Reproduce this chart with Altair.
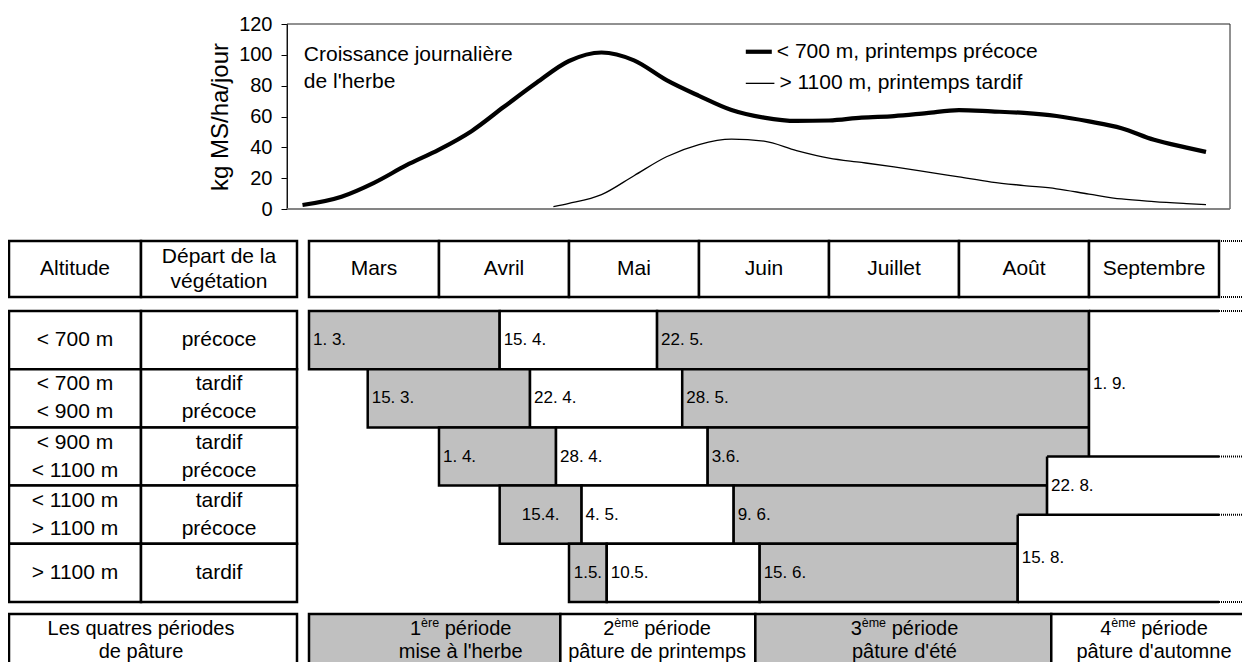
import altair as alt
import pandas as pd

FONT = "Liberation Sans"
GREY = "#c0c0c0"
BIG = 21
PER_FS = 20
SMALL = 17
SUP = 12.5
LW = 2.5

# ---------------------------------------------------------------- data
# growth curves: x = position in the season in months (0 = 1 March, 7 = 1 October)
low_x = [-0.05, 0.25, 0.5, 0.75, 1.0, 1.25, 1.5, 1.75, 2.0, 2.25, 2.5, 2.75, 3.0, 3.25,
         3.5, 3.75, 4.0, 4.25, 4.5, 4.75, 5.0, 5.25, 5.5, 5.75, 6.0, 6.25, 6.5, 6.75, 6.9]
low_y = [2.6, 8, 17, 28.4, 38.5, 50.5, 66.3, 81.9, 96, 101.5, 96.4, 83.6, 73.4, 64.2,
         59.3, 57.1, 57.4, 59.3, 60.3, 62.2, 64.1, 63.3, 62.3, 60.3, 56.8, 52.4, 44.9, 39.8, 37]
high_x = [1.88, 2.0, 2.25, 2.5, 2.75, 3.0, 3.25, 3.5, 3.75, 4.0, 4.25, 4.5, 4.75, 5.0,
          5.25, 5.5, 5.75, 6.0, 6.25, 6.5, 6.75, 6.9]
high_y = [1.5, 3.6, 9.3, 21.6, 33.9, 41.8, 45.3, 44, 37.9, 33, 30.2, 27.3, 24.1, 20.8,
          17.5, 15.2, 13.1, 9.7, 6.5, 4.8, 3.5, 2.8]
series_names = ["< 700 m, printemps précoce", "> 1100 m, printemps tardif"]
kg_ticks = [0, 20, 40, 60, 80, 100, 120]
y_title = "kg MS/ha/jour"
chart_note = "Croissance journalière\nde l'herbe"

months = ["Mars", "Avril", "Mai", "Juin", "Juillet", "Août", "Septembre"]
month_len = {3: 31, 4: 30, 5: 31, 6: 30, 7: 31, 8: 31, 9: 30, 10: 31}

head_left = ["Altitude", "Départ de la\nvégétation"]
alt_labels = ["< 700 m", "< 700 m\n< 900 m", "< 900 m\n< 1100 m", "< 1100 m\n> 1100 m", "> 1100 m"]
veg_labels = ["précoce", "tardif\nprécoce", "tardif\nprécoce", "tardif\nprécoce", "tardif"]

seg_row = [0, 0, 0, 1, 1, 1, 2, 2, 2, 3, 3, 3, 4, 4, 4]
seg_start = ["1.3", "15.4", "22.5", "15.3", "22.4", "28.5", "1.4", "28.4", "3.6",
             "15.4", "4.5", "9.6", "1.5", "10.5", "15.6"]
seg_end = ["15.4", "22.5", "1.9", "22.4", "28.5", "1.9", "28.4", "3.6", "1.9",
           "4.5", "9.6", "22.8", "10.5", "15.6", "15.8"]
seg_label = ["1. 3.", "15. 4.", "22. 5.", "15. 3.", "22. 4.", "28. 5.", "1. 4.", "28. 4.", "3.6.",
             "15.4.", "4. 5.", "9. 6.", "1.5.", "10.5.", "15. 6."]
seg_phase = ["g", "w", "g", "g", "w", "g", "g", "w", "g", "g", "w", "g", "g", "w", "g"]
seg_centered = [0, 0, 0, 0, 0, 0, 0, 0, 0, 1, 0, 0, 1, 0, 0]

aut_start = ["1.9", "22.8", "15.8"]
aut_row_top = [0, 2.5, 3.5]
aut_row_bottom = [2.5, 3.5, 5]
aut_label = ["1. 9.", "22. 8.", "15. 8."]
season_end = "1.10"
dotted_to = "10.10"

per_title = "Les quatres périodes\nde pâture"
per_start = ["1.3", "29.4", "14.6", "23.8"]
per_end = ["29.4", "14.6", "23.8", "15.10"]
per_text_at = ["6.4", "22.5", "19.7", "16.9"]
per_num = ["1", "2", "3", "4"]
per_sup = ["ère", "ème", "ème", "ème"]
per_word = ["période", "période", "période", "période"]
per_name = ["mise à l'herbe", "pâture de printemps", "pâture d'été", "pâture d'automne"]
per_phase = ["g", "w", "g", "w"]

# ---------------------------------------------------------------- layout (pixels)
W, H = 1234, 654
X_MONTH = alt.Scale(domain=[0, 7], range=[301, 1211], nice=False, zero=False)
PX_PER_MONTH = (1211 - 301) / 7
X_LEFT = alt.Scale(domain=[0, 1, 2], range=[1, 133, 289], nice=False, zero=False)
Y_KG = alt.Scale(domain=[0, 120], range=[201, 16], nice=False, zero=False)
Y_HEAD = alt.Scale(domain=[0, 1], range=[233, 289], nice=False, zero=False)
Y_ROWS = alt.Scale(domain=[0, 5], range=[303, 594], nice=False, zero=False)
Y_PER = alt.Scale(domain=[0, 1], range=[606, 662], nice=False, zero=False)
PHASE = alt.Scale(domain=["g", "w"], range=[GREY, "white"])
HEAD_STEP = 25 / 56          # line spacing in header units
ROW_STEP = 28 / 58.2         # line spacing in row units
PER_STEP = 23 / 56           # line spacing in period-row units
PER_MID = 0.47               # vertical centre of the two text lines in the period row


def pos(s):
    d, m = (int(v) for v in s.split("."))
    return (m - 3) + (d - 1) / month_len[m]


AW = {"1": .556, "2": .556, "3": .556, "4": .556, "è": .556, "é": .556, "e": .556,
      "r": .333, "m": .833, " ": .278, "p": .556, "i": .222, "o": .556, "d": .556}


def tw(s, size):
    return sum(AW.get(c, .556) for c in s) * size


def explode(df, col, center, step):
    out = []
    for _, r in df.iterrows():
        parts = r[col].split("\n")
        n = len(parts)
        for k, p in enumerate(parts):
            d = r.to_dict()
            d["line"] = p
            d["ly"] = r[center] + (k - (n - 1) / 2) * step
            out.append(d)
    return pd.DataFrame(out)


def X(f, sc):
    return alt.X(f, scale=sc, axis=None)


def Y(f, sc):
    return alt.Y(f, scale=sc, axis=None)


def txt(df, xf, xs, yf, ys, tf, size=BIG, **kw):
    return alt.Chart(df).mark_text(fontSize=size, font=FONT, color="black", baseline="middle", **kw).encode(
        x=X(xf, xs), y=Y(yf, ys), text=tf)


layers = []

# ---------------------------------------------------------------- growth chart
frame = alt.Chart(pd.DataFrame({"a": [0]})).mark_rect(
    fillOpacity=0, stroke="#222", strokeWidth=1).encode(
    x=alt.value(279), x2=alt.value(1222), y=alt.value(16), y2=alt.value(201))
bottom = alt.Chart(pd.DataFrame({"a": [0]})).mark_rule(color="#808080", strokeWidth=1.6).encode(
    x=alt.value(279), x2=alt.value(1222), y=alt.value(201))
layers += [frame, bottom]

growth = pd.DataFrame({
    "pos": low_x + high_x,
    "kg": low_y + high_y,
    "series": [series_names[0]] * len(low_x) + [series_names[1]] * len(high_x),
})
kg_axis = alt.Axis(values=kg_ticks, tickSize=6, labelPadding=9, labelFontSize=20, labelFont=FONT,
                   labelColor="black", domainColor="black", tickColor="black", grid=False,
                   title=y_title, titleFontSize=24, titleFont=FONT, titleFontWeight="normal",
                   titleColor="black", titlePadding=6, offset=-279)
for i, (name, width) in enumerate(zip(series_names, [4.2, 1.3])):
    layers.append(
        alt.Chart(growth).transform_filter(alt.datum.series == name)
        .mark_line(color="black", strokeWidth=width, interpolate="monotone")
        .encode(x=X("pos:Q", X_MONTH),
                y=alt.Y("kg:Q", scale=Y_KG, axis=kg_axis if i == 0 else None))
    )

note = explode(pd.DataFrame({"pos": [-0.04], "kg": [91.2], "t": [chart_note]}), "t", "kg", -17)
layers.append(txt(note, "pos:Q", X_MONTH, "ly:Q", Y_KG, "line:N", align="left"))

leg = pd.DataFrame({"x0": [3.36, 3.36], "x1": [3.56, 3.58], "kg": [102, 81.5], "t": series_names})
for i, width in enumerate([4.2, 1.3]):
    layers.append(alt.Chart(leg.iloc[[i]]).mark_rule(color="black", strokeWidth=width)
                  .encode(x=X("x0:Q", X_MONTH), x2="x1:Q", y=Y("kg:Q", Y_KG)))
layers.append(txt(leg, "x1:Q", X_MONTH, "kg:Q", Y_KG, "t:N", align="left", dx=5))

# ---------------------------------------------------------------- header row
hl = pd.DataFrame({"c0": [0, 1], "c1": [1, 2], "r0": [0, 0], "r1": [1, 1], "t": head_left})
hl["cm"] = (hl.c0 + hl.c1) / 2
hl["rm"] = 0.5
layers.append(alt.Chart(hl).mark_rect(fill="white", stroke="black", strokeWidth=LW)
              .encode(x=X("c0:Q", X_LEFT), x2="c1:Q", y=Y("r0:Q", Y_HEAD), y2="r1:Q"))
layers.append(txt(explode(hl, "t", "rm", HEAD_STEP), "cm:Q", X_LEFT, "ly:Q", Y_HEAD, "line:N"))

mh = pd.DataFrame({"m0": list(range(7)), "m1": list(range(1, 8)), "r0": 0, "r1": 1, "t": months})
mh["mm"] = mh.m0 + 0.5
mh["rm"] = 0.5
layers.append(alt.Chart(mh).mark_rect(fill="white", stroke="black", strokeWidth=LW)
              .encode(x=X("m0:Q", X_MONTH), x2="m1:Q", y=Y("r0:Q", Y_HEAD), y2="r1:Q"))
layers.append(txt(mh, "mm:Q", X_MONTH, "rm:Q", Y_HEAD, "t:N"))

# ---------------------------------------------------------------- left table rows
rows = []
for r in range(5):
    rows.append({"c0": 0, "c1": 1, "r0": r, "r1": r + 1, "t": alt_labels[r]})
    rows.append({"c0": 1, "c1": 2, "r0": r, "r1": r + 1, "t": veg_labels[r]})
lt = pd.DataFrame(rows)
lt["cm"] = (lt.c0 + lt.c1) / 2
lt["rm"] = (lt.r0 + lt.r1) / 2
layers.append(alt.Chart(lt).mark_rect(fill="white", stroke="black", strokeWidth=LW)
              .encode(x=X("c0:Q", X_LEFT), x2="c1:Q", y=Y("r0:Q", Y_ROWS), y2="r1:Q"))
layers.append(txt(explode(lt, "t", "rm", ROW_STEP), "cm:Q", X_LEFT, "ly:Q", Y_ROWS, "line:N"))

# ---------------------------------------------------------------- grazing calendar
seg = pd.DataFrame({"row": seg_row, "s": [pos(v) for v in seg_start], "e": [pos(v) for v in seg_end],
                    "t": seg_label, "phase": seg_phase, "cent": seg_centered})
seg["r1"] = seg.row + 1
seg["rm"] = seg.row + 0.5
seg["mid"] = (seg.s + seg.e) / 2
layers.append(alt.Chart(seg).mark_rect(stroke="black", strokeWidth=LW)
              .encode(x=X("s:Q", X_MONTH), x2="e:Q", y=Y("row:Q", Y_ROWS), y2="r1:Q",
                      fill=alt.Fill("phase:N", scale=PHASE, legend=None)))

aut = pd.DataFrame({"s": [pos(v) for v in aut_start], "e": pos(season_end),
                    "r0": aut_row_top, "r1": aut_row_bottom, "t": aut_label})
aut["rm"] = (aut.r0 + aut.r1) / 2
layers.append(alt.Chart(aut).mark_rect(fill="white")
              .encode(x=X("s:Q", X_MONTH), x2="e:Q", y=Y("r0:Q", Y_ROWS), y2="r1:Q"))
layers.append(alt.Chart(aut).mark_rule(color="black", strokeWidth=LW)
              .encode(x=X("s:Q", X_MONTH), y=Y("r0:Q", Y_ROWS), y2="r1:Q"))
layers.append(alt.Chart(aut).mark_rule(color="black", strokeWidth=LW)
              .encode(x=X("s:Q", X_MONTH), x2="e:Q", y=Y("r0:Q", Y_ROWS)))
last = aut.iloc[[-1]]
layers.append(alt.Chart(last).mark_rule(color="black", strokeWidth=LW)
              .encode(x=X("s:Q", X_MONTH), x2="e:Q", y=Y("r1:Q", Y_ROWS)))

layers.append(txt(seg[seg.cent == 0], "s:Q", X_MONTH, "rm:Q", Y_ROWS, "t:N", size=SMALL, align="left", dx=4))
layers.append(txt(seg[seg.cent == 1], "mid:Q", X_MONTH, "rm:Q", Y_ROWS, "t:N", size=SMALL, align="center"))
layers.append(txt(aut, "s:Q", X_MONTH, "rm:Q", Y_ROWS, "t:N", size=SMALL, align="left", dx=4))

# dotted continuation on the right
dot_rows = pd.DataFrame({"s": pos(season_end), "e": pos(dotted_to),
                         "y": aut_row_top + [aut_row_bottom[-1]]})
dot_head = pd.DataFrame({"s": pos(season_end), "e": pos(dotted_to), "y": [0, 1]})
layers.append(alt.Chart(dot_rows).mark_rule(color="black", strokeWidth=2, strokeDash=[1, 1])
              .encode(x=X("s:Q", X_MONTH), x2="e:Q", y=Y("y:Q", Y_ROWS)))
layers.append(alt.Chart(dot_head).mark_rule(color="black", strokeWidth=2, strokeDash=[1, 1])
              .encode(x=X("s:Q", X_MONTH), x2="e:Q", y=Y("y:Q", Y_HEAD)))

# ---------------------------------------------------------------- grazing periods
pl = pd.DataFrame({"c0": [0], "c1": [2], "r0": [0], "r1": [1], "t": [per_title], "cm": [1], "rm": [PER_MID]})
layers.append(alt.Chart(pl).mark_rect(fill="white", stroke="black", strokeWidth=LW)
              .encode(x=X("c0:Q", X_LEFT), x2="c1:Q", y=Y("r0:Q", Y_PER), y2="r1:Q"))
layers.append(txt(explode(pl, "t", "rm", PER_STEP), "cm:Q", X_LEFT, "ly:Q", Y_PER, "line:N", size=PER_FS))

per = pd.DataFrame({"s": [pos(v) for v in per_start], "e": [pos(v) for v in per_end],
                    "phase": per_phase, "name": per_name, "num": per_num, "sup": per_sup,
                    "word": per_word, "at": [pos(v) for v in per_text_at]})
per["r0"] = 0
per["r1"] = 1
per["y1"] = PER_MID - PER_STEP / 2
per["y2"] = PER_MID + PER_STEP / 2
wn = per.num.map(lambda s: tw(s, PER_FS))
ws = per.sup.map(lambda s: tw(s, SUP))
wsp = tw(" ", PER_FS)
ww = per.word.map(lambda s: tw(s, PER_FS))
per["x_num"] = per["at"] - (wn + ws + wsp + ww) / 2 / PX_PER_MONTH
per["x_sup"] = per["x_num"] + wn / PX_PER_MONTH
per["x_word"] = per["x_sup"] + (ws + wsp) / PX_PER_MONTH
layers.append(alt.Chart(per).mark_rect(stroke="black", strokeWidth=LW)
              .encode(x=X("s:Q", X_MONTH), x2="e:Q", y=Y("r0:Q", Y_PER), y2="r1:Q",
                      fill=alt.Fill("phase:N", scale=PHASE, legend=None)))
layers.append(txt(per, "x_num:Q", X_MONTH, "y1:Q", Y_PER, "num:N", size=PER_FS, align="left"))
layers.append(txt(per, "x_sup:Q", X_MONTH, "y1:Q", Y_PER, "sup:N", size=SUP, align="left", dy=-6))
layers.append(txt(per, "x_word:Q", X_MONTH, "y1:Q", Y_PER, "word:N", size=PER_FS, align="left"))
layers.append(txt(per, "at:Q", X_MONTH, "y2:Q", Y_PER, "name:N", size=PER_FS, align="center"))

chart = (
    alt.layer(*layers)
    .resolve_scale(x="independent", y="independent")
    .properties(width=W, height=H, autosize=alt.AutoSizeParams(type="none"), padding=0)
    .configure(font=FONT, background="white")
    .configure_view(stroke=None)
)

chart.save("out.html", embed_options={"renderer": "svg", "actions": False})
